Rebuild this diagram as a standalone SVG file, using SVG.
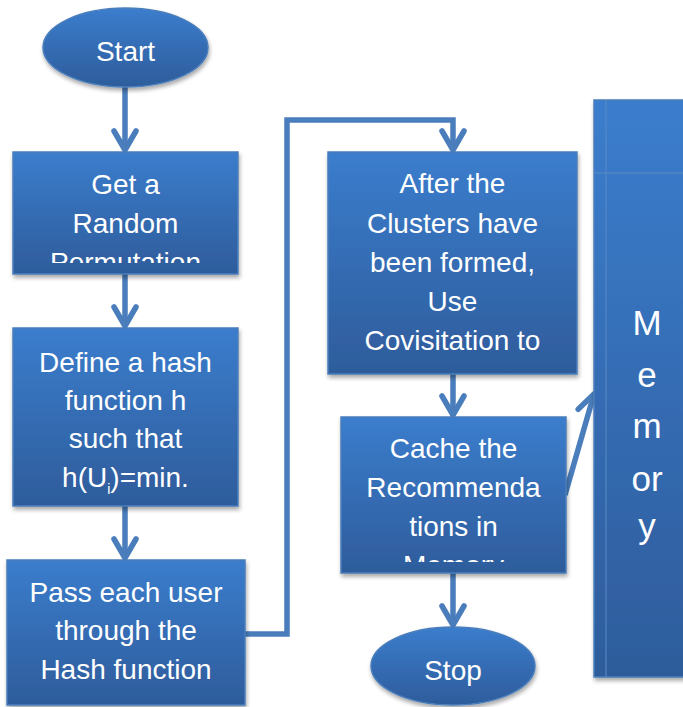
<svg xmlns="http://www.w3.org/2000/svg" width="683" height="707" viewBox="0 0 683 707">
<defs>
<linearGradient id="g" x1="0" y1="0" x2="0" y2="1">
<stop offset="0" stop-color="#3b7dcd"/>
<stop offset="1" stop-color="#2e5c9b"/>
</linearGradient>
<filter id="sh" x="-10%" y="-10%" width="125%" height="125%">
<feGaussianBlur in="SourceAlpha" stdDeviation="2"/>
<feOffset dx="1" dy="3" result="b"/>
<feComponentTransfer><feFuncA type="linear" slope="0.35"/></feComponentTransfer>
<feMerge><feMergeNode/><feMergeNode in="SourceGraphic"/></feMerge>
</filter>
<marker id="ah" markerUnits="userSpaceOnUse" viewBox="-24 -14 28 28" refX="0" refY="0" markerWidth="28" markerHeight="28" orient="auto">
<path d="M-19,-11 L0,0 L-19,11" fill="none" stroke="#4a7dbb" stroke-width="5.5" stroke-linecap="round" stroke-linejoin="round"/>
</marker>
<clipPath id="c1"><rect x="13" y="152" width="225" height="111"/></clipPath>
<clipPath id="c5"><rect x="341" y="417" width="225" height="145"/></clipPath>
<clipPath id="c4"><rect x="328" y="152" width="249" height="212"/></clipPath>
</defs>
<style>
.box{fill:url(#g);stroke:#4a7ebb;stroke-width:1.5;filter:url(#sh)}
.t{font-family:"Liberation Sans",Arial,sans-serif;font-size:28px;fill:#fff;text-anchor:middle}
.mt{font-family:"Liberation Sans",Arial,sans-serif;font-size:35px;fill:#fff;text-anchor:middle}
.con{fill:none;stroke:#4a7dbb;stroke-width:5.5;marker-end:url(#ah)}
</style>

<g id="connectors">
<path class="con" d="M125,87 V150"/>
<path class="con" d="M125,274 V326"/>
<path class="con" d="M125,506 V558"/>
<path class="con" d="M245,634 H287 V120 H453 V150"/>
<path class="con" d="M453,374 V415"/>
<path class="con" d="M453,573 V625"/>
<path class="con" d="M565,495 L594,394"/>
</g>

<g id="start">
<ellipse class="box" cx="125.5" cy="47.5" rx="82.5" ry="39.5"/>
<text class="t" x="125.5" y="61">Start</text>
</g>

<g id="random-permutation">
<rect class="box" x="13" y="152" width="225" height="122"/>
<g clip-path="url(#c1)">
<text class="t" x="125.5" y="194">Get a</text>
<text class="t" x="125.5" y="233">Random</text>
<text class="t" x="125.5" y="272">Permutation</text>
</g>
</g>

<g id="define-hash">
<rect class="box" x="13" y="328" width="225" height="178"/>
<text class="t" x="125.5" y="372">Define a hash</text>
<text class="t" x="125.5" y="410">function h</text>
<text class="t" x="125.5" y="448">such that</text>
<text class="t" x="125.5" y="487">h(U<tspan font-size="14" dy="7">i</tspan><tspan dy="-7">)=min.</tspan></text>
</g>

<g id="pass-users">
<rect class="box" x="7" y="560" width="238" height="145"/>
<text class="t" x="126" y="602">Pass each user</text>
<text class="t" x="126" y="640">through the</text>
<text class="t" x="126" y="679">Hash function</text>
</g>

<g id="covisitation">
<rect class="box" x="328" y="152" width="249" height="222"/>
<g clip-path="url(#c4)">
<text class="t" x="452.5" y="193">After the</text>
<text class="t" x="452.5" y="233">Clusters have</text>
<text class="t" x="452.5" y="272">been formed,</text>
<text class="t" x="452.5" y="311">Use</text>
<text class="t" x="452.5" y="350">Covisitation to</text>
</g>
</g>

<g id="cache">
<rect class="box" x="341" y="417" width="225" height="156"/>
<g clip-path="url(#c5)">
<text class="t" x="453.5" y="458">Cache the</text>
<text class="t" x="453.5" y="497">Recommenda</text>
<text class="t" x="453.5" y="536">tions in</text>
<text class="t" x="453.5" y="575">Memory</text>
</g>
</g>

<g id="stop">
<ellipse class="box" cx="453" cy="666" rx="82" ry="39"/>
<text class="t" x="453" y="680">Stop</text>
</g>

<g id="memory">
<rect class="box" x="594" y="100" width="110" height="577"/>
<line x1="606" y1="100" x2="606" y2="677" stroke="#5a8ac4" stroke-width="1"/>
<line x1="594" y1="173" x2="683" y2="173" stroke="#5a8ac4" stroke-width="1"/>
<text class="mt" x="647" y="335">M</text>
<text class="mt" x="647" y="387">e</text>
<text class="mt" x="647" y="438">m</text>
<text class="mt" x="647" y="491">or</text>
<text class="mt" x="647" y="538">y</text>
</g>
</svg>
